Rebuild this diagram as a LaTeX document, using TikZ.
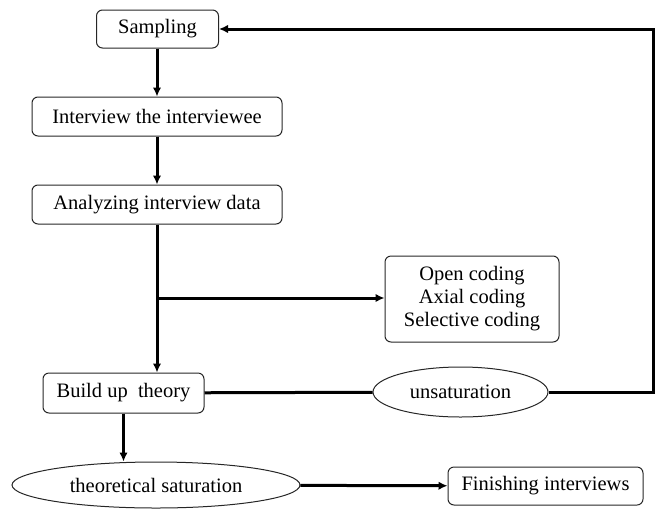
\documentclass[tikz,border=0pt]{standalone}
\usepackage{fontspec}
\setmainfont{Liberation Serif}
\usetikzlibrary{arrows.meta,shapes.geometric}
\begin{document}
\begin{tikzpicture}[x=1pt,y=-1pt,
  box/.style={draw=black!85,line width=1pt,rounded corners=6pt,inner sep=0pt,
    font=\fontsize{20.5}{22}\selectfont},
  oval/.style={draw=black!85,line width=1pt,ellipse,inner sep=0pt,
    font=\fontsize{20.5}{22}\selectfont},
  flow/.style={line width=3pt,-{Latex[length=9pt,width=8.5pt]}},
  link/.style={line width=3pt}]
\useasboundingbox (0,0) rectangle (663,509);

\node[box,minimum width=122pt,minimum height=38pt] (samp) at (157.5,29) {Sampling};
\node[box,minimum width=250pt,minimum height=39pt] (intv) at (157,116.5) {Interview the interviewee};
\node[box,minimum width=250pt,minimum height=39pt] (anal) at (157,204.5) {Analyzing interview data};
\node[box,minimum width=174pt,minimum height=86pt,align=center,
  font=\fontsize{20.5}{23}\selectfont] (code) at (472,299)
  {Open coding\\Axial coding\\Selective coding};
\node[box,minimum width=161pt,minimum height=40pt] (build) at (123.5,393) {Build up\ \ theory};
\node[oval,minimum width=175pt,minimum height=50pt] (unsat) at (460.5,392) {unsaturation};
\node[oval,minimum width=288pt,minimum height=46pt] (sat) at (156,485) {theoretical saturation};
\node[box,minimum width=195pt,minimum height=38pt] (fin) at (545.5,486) {Finishing interviews};

\coordinate (branch) at (157,298);
\coordinate (corner) at (653,392);

\draw[flow] (samp.south -| intv) -- (intv.north);
\draw[flow] (intv) -- (anal);
\draw[flow] (anal.south) -- (anal.south |- build.north);
\draw[flow] (branch) -- (code.west |- branch);
\draw[link] (build) -- (unsat);
\draw[flow] (unsat.east) -- (corner) |- (samp.east);
\draw[flow] (build) -- (build.south |- sat.north);
\draw[flow] (sat) -- (fin);
\end{tikzpicture}
\end{document}
